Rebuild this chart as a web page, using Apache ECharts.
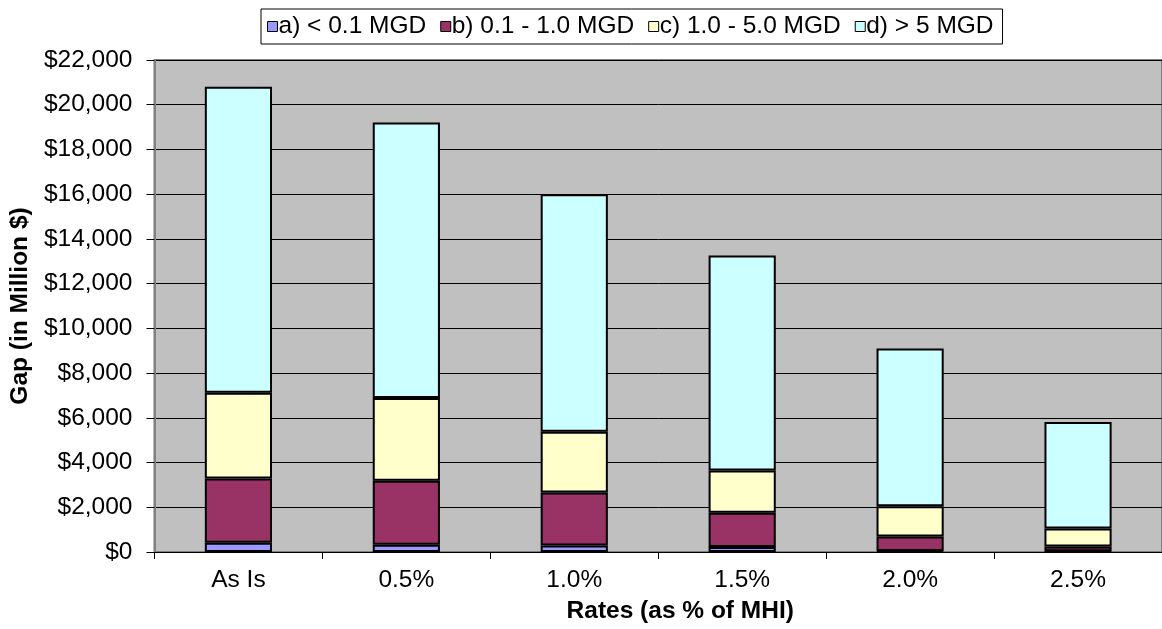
<!DOCTYPE html>
<html><head><meta charset="utf-8">
<script src="https://cdn.jsdelivr.net/npm/echarts@6/dist/echarts.min.js"></script>
<style>html,body{margin:0;padding:0;background:#fff}#c{width:1162px;height:629px}</style>
</head><body><div id="c"></div>
<script>
var categories = ['As Is', '0.5%', '1.0%', '1.5%', '2.0%', '2.5%'];
var seriesNames = ['a) < 0.1 MGD', 'b) 0.1 - 1.0 MGD', 'c) 1.0 - 5.0 MGD', 'd) > 5 MGD'];
var aValues = [410, 320, 290, 220, 40, 30];
var bValues = [2880, 2870, 2365, 1530, 650, 220];
var cValues = [3830, 3700, 2725, 1890, 1360, 800];
var dValues = [13680, 12320, 10620, 9615, 7050, 4765];
var colors = ['#9999FF', '#993366', '#FFFFCC', '#CCFFFF'];
var font = 'Liberation Sans, Arial, sans-serif';

var allValues = [aValues, bValues, cValues, dValues];
var chart = echarts.init(document.getElementById('c'));
var series = allValues.map(function (vals, i) {
  return {
    name: seriesNames[i], type: 'bar', stack: 'total', data: vals,
    barCategoryGap: '60%',
    itemStyle: { color: colors[i], borderColor: '#000', borderWidth: 2 },
    emphasis: { disabled: true }
  };
});
chart.setOption({
  animation: false,
  textStyle: { fontFamily: font },
  legend: {
    data: seriesNames, left: 261, top: 9,
    padding: [5, 9, 5, 6], itemGap: 14,
    borderColor: '#000', borderWidth: 1, backgroundColor: '#fff',
    icon: 'rect', itemWidth: 10, itemHeight: 10,
    itemStyle: { borderColor: '#000', borderWidth: 1 },
    textStyle: { fontSize: 24.5, color: '#000', fontFamily: font, padding: [0, 0, 0, -4] }
  },
  grid: { left: 154, right: -9, top: 60, bottom: 72, show: true,
    backgroundColor: '#C0C0C0', borderColor: '#808080', borderWidth: 2 },
  xAxis: {
    type: 'category', data: categories,
    name: 'Rates (as % of MHI)', nameLocation: 'middle', nameGap: 47,
    nameTextStyle: { fontSize: 24.5, fontWeight: 'bold', color: '#000', fontFamily: font,
      padding: [0, 0, 0, 44] },
    axisLine: { lineStyle: { color: '#000', width: 1 } },
    axisTick: { show: true, length: 7, lineStyle: { color: '#000' } },
    axisLabel: { fontSize: 24.5, color: '#000', margin: 16, fontFamily: font }
  },
  yAxis: {
    type: 'value', min: 0, max: 22000, interval: 2000,
    name: 'Gap (in Million $)', nameLocation: 'middle', nameGap: 119,
    nameTextStyle: { fontSize: 24.5, fontWeight: 'bold', color: '#000', fontFamily: font },
    axisLine: { show: true, lineStyle: { color: '#808080', width: 2 } },
    axisTick: { show: true, length: 8, lineStyle: { color: '#000' } },
    axisLabel: { fontSize: 24.5, color: '#000', margin: 22, fontFamily: font,
      formatter: function (v) { return '$' + v.toLocaleString('en-US'); } },
    splitLine: { show: true, lineStyle: { color: '#000', width: 1 } }
  },
  series: series
});
</script></body></html>
